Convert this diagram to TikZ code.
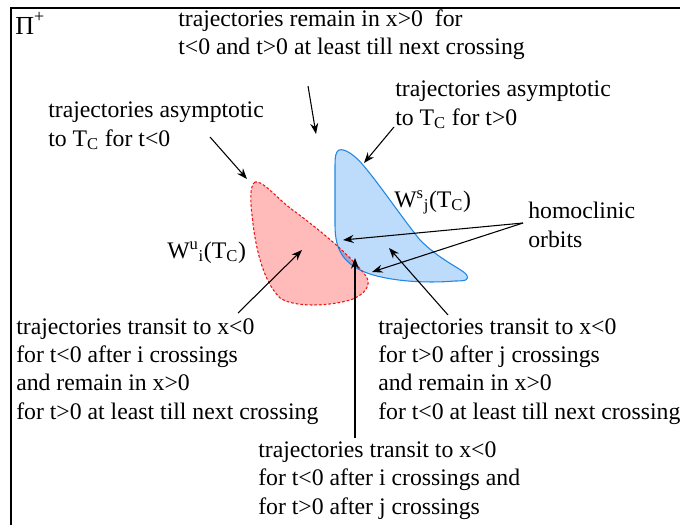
\documentclass[tikz,border=0pt]{standalone}
\usepackage{fontspec}
\setmainfont{Liberation Serif}
\usetikzlibrary{arrows.meta}
\definecolor{stablefill}{RGB}{189,219,250}
\definecolor{stableline}{RGB}{30,136,229}
\definecolor{unstablefill}{RGB}{255,186,186}
\definecolor{unstableline}{RGB}{240,20,20}
\definecolor{bothfill}{RGB}{176,158,196}
% outlines of the two manifolds, in pixel units
\def\stablelobe{(337,152) .. controls (340,146) and (352,152) .. (363,165)
  .. controls (380,185) and (400,215) .. (420,240)
  .. controls (440,260) and (460,268) .. (466,274)
  .. controls (470,280) and (466,281) .. (455,281)
  .. controls (420,284) and (380,280) .. (360,270)
  .. controls (340,260) and (335,245) .. (335,225)
  -- (335,170) .. controls (335,160) and (335,155) .. (337,152) -- cycle}
\def\unstablelobe{(255,182) .. controls (250,185) and (250,200) .. (252,215)
  .. controls (255,245) and (262,280) .. (280,298)
  .. controls (295,308) and (330,306) .. (350,300)
  .. controls (365,295) and (372,285) .. (366,276)
  .. controls (350,255) and (320,230) .. (290,208)
  .. controls (275,196) and (262,180) .. (255,182) -- cycle}
\begin{document}
\begin{tikzpicture}[x=0.75pt,y=-0.75pt,
  txt/.style={anchor=base west,align=left,inner sep=0pt,font=\fontsize{17.8}{21.1}\selectfont},
  pointer/.style={-{Stealth[length=8pt,width=6pt]},line width=0.8pt}]
\clip (0,0) rectangle (680,524);
% section frame
\draw[line width=1.2pt] (11,540) -- (11,8) -- (700,8);
\node[txt,font=\fontsize{19.5}{21}\selectfont] (sec) at (15,35) {Π\raisebox{9.5pt}{\fontsize{13.5}{14}\selectfont +}};
% the two lobes and their overlap
\fill[unstablefill] \unstablelobe;
\fill[stablefill] \stablelobe;
\begin{scope}
  \clip \unstablelobe;
  \fill[bothfill] \stablelobe;
\end{scope}
\draw[stableline,line width=0.8pt] \stablelobe;
\draw[unstableline,line width=0.8pt,dashed,dash pattern=on 2pt off 1.5pt] \unstablelobe;
% labels (base = last line)
\node[txt] (remain) at (178,55) {trajectories remain in x>0\ \ for\\t<0 and t>0 at least till next crossing};
\node[txt] (asymfwd) at (395,125) {trajectories asymptotic\\to T\textsubscript{C} for t>0};
\node[txt] (asymbwd) at (48,146) {trajectories asymptotic\\to T\textsubscript{C} for t<0};
\node[txt] (ws) at (394,207) {W\textsuperscript{s}\textsubscript{j}(T\textsubscript{C})};
\node[txt] (wu) at (167,258) {W\textsuperscript{u}\textsubscript{i}(T\textsubscript{C})};
\node[txt] (homo) at (528,247) {homoclinic\\orbits};
\node[txt] (transu) at (16,419) {trajectories transit to x<0\\for t<0 after i crossings\\and remain in x>0\\for t>0 at least till next crossing};
\node[txt] (transs) at (378,419) {trajectories transit to x<0\\for t>0 after j crossings\\and remain in x>0\\for t<0 at least till next crossing};
\node[txt] (transb) at (258,514) {trajectories transit to x<0\\for t<0 after i crossings and\\for t>0 after j crossings};
% arrow ends
\coordinate (remainfrom) at (308,86);
\coordinate (remainto) at (316,134);
\coordinate (bwdfrom) at (210,137);
\coordinate (bwdto) at (247,179);
\coordinate (fwdfrom) at (394,127);
\coordinate (fwdto) at (364,163);
\coordinate (homofrom) at (523,223);
\coordinate (homoup) at (343,240);
\coordinate (homolow) at (372,272);
\coordinate (ufrom) at (238,313);
\coordinate (uto) at (302,250);
\coordinate (sfrom) at (448,315);
\coordinate (sto) at (389,248);
\coordinate (bfrom) at (355,438);
\coordinate (bto) at (355,258);
\draw[pointer] (remainfrom) -- (remainto);
\draw[pointer] (bwdfrom) -- (bwdto);
\draw[pointer] (fwdfrom) -- (fwdto);
\draw[pointer] (homofrom) -- (homoup);
\draw[pointer] (homofrom) -- (homolow);
\draw[pointer] (ufrom) -- (uto);
\draw[pointer] (sfrom) -- (sto);
\draw[pointer] (bfrom) -- (bto);
\end{tikzpicture}
\end{document}
